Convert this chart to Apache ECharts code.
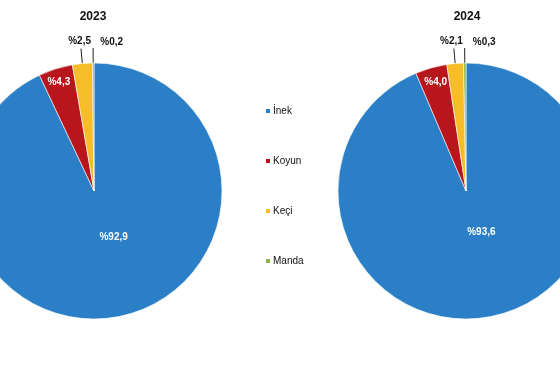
<!DOCTYPE html>
<html>
<head>
<meta charset="utf-8">
<script src="https://cdn.jsdelivr.net/npm/echarts@6/dist/echarts.min.js"></script>
<style>html,body{margin:0;padding:0;background:#fff}#c{width:560px;height:380px}</style>
</head>
<body>
<div id="c"></div>
<script>
const categories = ['İnek', 'Koyun', 'Keçi', 'Manda'];
const years = ['2023', '2024'];
const values2023 = [92.9, 4.3, 2.5, 0.2];
const values2024 = [93.6, 4.0, 2.1, 0.3];
const colors = ['#2A7FC6', '#B8161C', '#F6BD29', '#8DB43E'];

const chart = echarts.init(document.getElementById('c'));
const fmt = v => '%' + v.toFixed(1).replace('.', ',');
const FONT = 'Arial, Liberation Sans, sans-serif';

// label offsets (style only) per series: [İnek, Koyun, Keçi, Manda]
const labelOffsets = [
  [[5, -19], [-15, -45], [15, -7], [35, -6]],
  [[2, -24], [-12, -44], [14, -7], [36, -6]]
];

function makeSeries(vals, center, idx) {
  return {
    type: 'pie',
    name: years[idx],
    radius: 128,
    center: center,
    startAngle: 90,
    clockwise: true,
    animation: false,
    silent: true,
    avoidLabelOverlap: false,
    itemStyle: { borderColor: '#ffffff', borderWidth: 0.6 },
    labelLine: { show: true, length: 15, length2: 0, lineStyle: { color: '#222', width: 1 } },
    label: { fontFamily: FONT, fontSize: 10, fontWeight: 'bold', alignTo: 'none' },
    data: vals.map((v, i) => {
      const d = { name: categories[i], value: v, itemStyle: { color: colors[i] } };
      const off = labelOffsets[idx][i];
      if (i < 2) {
        d.label = { position: 'inside', color: '#fff', formatter: fmt(v), offset: off };
        d.labelLine = { show: false };
      } else {
        d.label = { position: 'outside', color: '#111', formatter: fmt(v), offset: off };
      }
      return d;
    })
  };
}

chart.setOption({
  backgroundColor: '#fff',
  title: [
    { text: years[0], left: 88, top: 6, textAlign: 'center', textStyle: { fontSize: 12, fontWeight: 'bold', color: '#111', fontFamily: FONT } },
    { text: years[1], left: 462, top: 6, textAlign: 'center', textStyle: { fontSize: 12, fontWeight: 'bold', color: '#111', fontFamily: FONT } }
  ],
  legend: {
    orient: 'vertical',
    left: 264,
    top: 106,
    padding: 0,
    itemWidth: 6,
    itemHeight: 6,
    itemGap: 40,
    icon: 'rect',
    selectedMode: false,
    data: categories,
    textStyle: { fontSize: 10, color: '#111', fontFamily: FONT, padding: [0, 0, 0, -3] }
  },
  labelLayout: function (p) {
    if (p.dataIndex === 3 && p.labelLinePoints && p.labelLinePoints.length >= 2) {
      const a = p.labelLinePoints[0];
      const b = p.labelLinePoints[1];
      return { labelLinePoints: [a, b, [b[0] + 4, b[1] - 3]] };
    }
    return {};
  },
  series: [
    makeSeries(values2023, [94, 191], 0),
    makeSeries(values2024, [466, 191], 1)
  ]
});
</script>
</body>
</html>
